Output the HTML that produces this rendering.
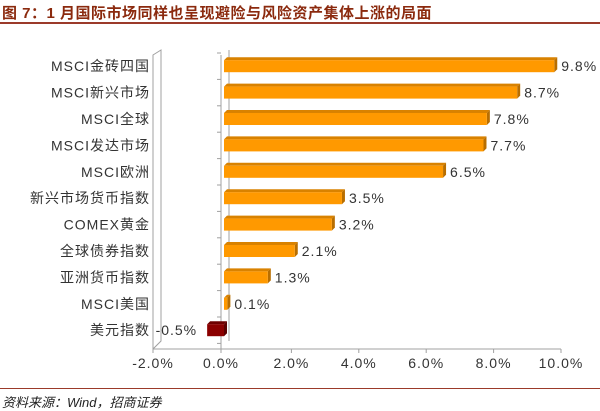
<!DOCTYPE html>
<html><head><meta charset="utf-8"><style>
body{margin:0;background:#fff;width:600px;height:411px;overflow:hidden;font-family:"Liberation Sans","Noto Sans CJK SC",sans-serif}
#title{position:absolute;left:2px;top:2px;font-size:15px;font-weight:bold;color:#8B2A0E;letter-spacing:0.5px}
#rule1{position:absolute;left:0;top:22px;width:600px;height:2px;background:#9B3A2A}
#rule2{position:absolute;left:0;top:388px;width:600px;height:1px;background:#9B3A2A}
#source{position:absolute;left:2px;top:392px;font-size:13px;color:#222;font-style:italic}
svg{position:absolute;left:0;top:0}
svg text{letter-spacing:1px}
</style></head><body>
<div id="title">图 7：1 月国际市场同样也呈现避险与风险资产集体上涨的局面</div>
<div id="rule1"></div>
<svg id="chart" width="600" height="411"></svg>
<div id="rule2"></div>
<div id="source">资料来源：Wind，招商证券</div>
<script>
const categories=["MSCI金砖四国","MSCI新兴市场","MSCI全球","MSCI发达市场","MSCI欧洲","新兴市场货币指数","COMEX黄金","全球债券指数","亚洲货币指数","MSCI美国","美元指数"];
const values=[9.8,8.7,7.8,7.7,6.5,3.5,3.2,2.1,1.3,0.1,-0.5];
const valueLabels=["9.8%","8.7%","7.8%","7.7%","6.5%","3.5%","3.2%","2.1%","1.3%","0.1%","-0.5%"];
const ticks=[-2,0,2,4,6,8,10];
const tickLabels=["-2.0%","0.0%","2.0%","4.0%","6.0%","8.0%","10.0%"];
const svg=document.getElementById('chart');
const NS='http://www.w3.org/2000/svg';
const x0=224,px=33.7,yTop=53,rowH=26.4,floorY=349;
const X=v=>x0+v*px;
const Y=i=>yTop+rowH*(i+0.5);
function mk(t,a,p){const e=document.createElementNS(NS,t);for(const k in a)e.setAttribute(k,a[k]);(p||svg).appendChild(e);return e;}
let w=mk('path',{d:`M153 ${floorY} L153 55 L161 50 L161 ${floorY-8} Z`,fill:'none',stroke:'#a0a0a0','stroke-width':1});


let za=mk('line',{x1:229,y1:50,x2:229,y2:floorY-8,stroke:'#a0a0a0'});


let zf=mk('line',{x1:221,y1:55,x2:221,y2:floorY,stroke:'#a0a0a0'});


let xa=mk('line',{x1:153,y1:floorY,x2:X(10),y2:floorY,stroke:'#a0a0a0'});


for(let i=0;i<=categories.length;i++){
  let t=mk('line',{x1:217,x2:221,y1:yTop+rowH*i,y2:yTop+rowH*i,stroke:'#a0a0a0'});
  
  
}
ticks.forEach((v,i)=>{
  const tx=v===0?221:(v===-2?153:X(v));
  let t=mk('line',{x1:tx,x2:tx,y1:floorY,y2:floorY+4,stroke:'#a0a0a0'});
  
  
  let l=mk('text',{x:tx,y:floorY+19,'text-anchor':'middle','font-size':14,fill:'#333'});
  l.textContent=tickLabels[i];
  
  
});
categories.forEach((c,i)=>{
  const cy=Y(i),v=values[i];
  const pos=v>=0;
  const front=pos?'#FF9900':'#8B0000',topc=pos?'#D98200':'#6E0000',side=pos?'#B86E00':'#5A0000';
  const xa=Math.min(X(0),X(v)),xb=Math.max(X(0),X(v));
  const g=mk('g',{});
  
  
  mk('path',{d:`M${xa} ${cy-6} L${xa+3} ${cy-9} L${xb+3} ${cy-9} L${xb} ${cy-6} Z`,fill:topc},g);
  mk('path',{d:`M${xb} ${cy-6} L${xb+3} ${cy-9} L${xb+3} ${cy+3} L${xb} ${cy+6} Z`,fill:side},g);
  mk('rect',{x:xa,y:cy-6,width:xb-xa,height:12,fill:front},g);
  const lab=mk('text',{x:pos?xb+7:xa-10,y:cy+5,'text-anchor':pos?'start':'end','font-size':14,fill:'#333'});
  lab.textContent=valueLabels[i];
  
  
  const cl=mk('text',{x:150,y:cy+5,'text-anchor':'end','font-size':14,fill:'#333'});
  cl.textContent=c;
  
  
});
</script>
</body></html>
